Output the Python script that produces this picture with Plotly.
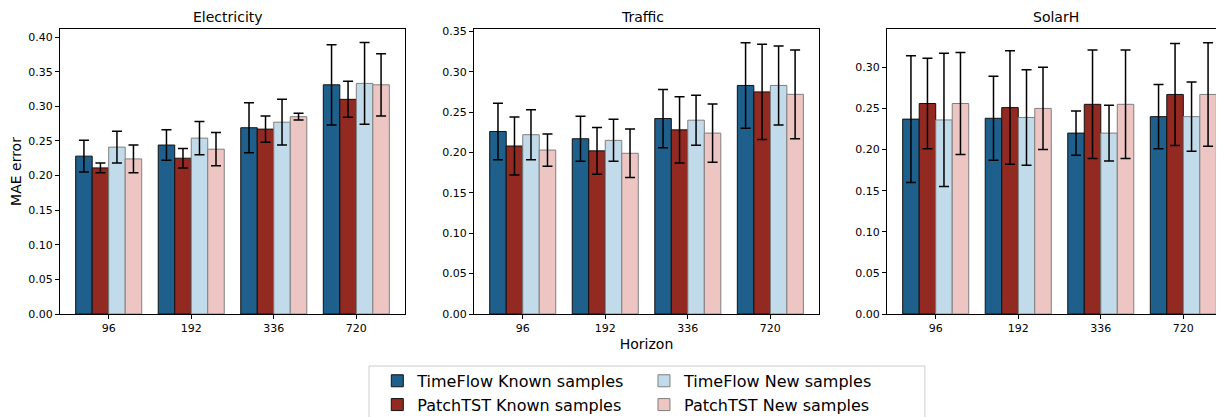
import plotly.graph_objects as go
from plotly.subplots import make_subplots

horizons = ["96", "192", "336", "720"]
datasets = ["Electricity", "Traffic", "SolarH"]
series = ["TimeFlow Known samples", "PatchTST Known samples", "TimeFlow New samples", "PatchTST New samples"]

# mean MAE per dataset, one list per series (horizon order 96,192,336,720)
elec_tf_known = [0.228, 0.244, 0.269, 0.331]
elec_pt_known = [0.211, 0.225, 0.267, 0.310]
elec_tf_new = [0.241, 0.254, 0.277, 0.333]
elec_pt_new = [0.224, 0.238, 0.285, 0.331]
elec_tf_known_err = [0.023, 0.022, 0.036, 0.058]
elec_pt_known_err = [0.007, 0.014, 0.019, 0.026]
elec_tf_new_err = [0.023, 0.024, 0.033, 0.059]
elec_pt_new_err = [0.020, 0.024, 0.005, 0.045]

traf_tf_known = [0.226, 0.217, 0.242, 0.283]
traf_pt_known = [0.208, 0.202, 0.228, 0.275]
traf_tf_new = [0.222, 0.215, 0.240, 0.283]
traf_pt_new = [0.203, 0.199, 0.224, 0.272]
traf_tf_known_err = [0.035, 0.028, 0.036, 0.053]
traf_pt_known_err = [0.036, 0.029, 0.041, 0.059]
traf_tf_new_err = [0.031, 0.026, 0.031, 0.049]
traf_pt_new_err = [0.020, 0.030, 0.036, 0.055]

solar_tf_known = [0.237, 0.238, 0.220, 0.240]
solar_pt_known = [0.256, 0.251, 0.255, 0.267]
solar_tf_new = [0.236, 0.239, 0.220, 0.240]
solar_pt_new = [0.256, 0.250, 0.255, 0.267]
solar_tf_known_err = [0.077, 0.051, 0.027, 0.039]
solar_pt_known_err = [0.055, 0.069, 0.066, 0.062]
solar_tf_new_err = [0.081, 0.058, 0.034, 0.042]
solar_pt_new_err = [0.062, 0.050, 0.066, 0.063]

means = {
    "Electricity": [elec_tf_known, elec_pt_known, elec_tf_new, elec_pt_new],
    "Traffic": [traf_tf_known, traf_pt_known, traf_tf_new, traf_pt_new],
    "SolarH": [solar_tf_known, solar_pt_known, solar_tf_new, solar_pt_new],
}
errs = {
    "Electricity": [elec_tf_known_err, elec_pt_known_err, elec_tf_new_err, elec_pt_new_err],
    "Traffic": [traf_tf_known_err, traf_pt_known_err, traf_tf_new_err, traf_pt_new_err],
    "SolarH": [solar_tf_known_err, solar_pt_known_err, solar_tf_new_err, solar_pt_new_err],
}

colors = ["#1f5f8b", "#922a22", "#c2dbea", "#edc6c4"]
edges = ["#111111", "#111111", "#7f7f7f", "#7f7f7f"]
legends = ["legend", "legend", "legend2", "legend2"]  # two legend columns: known / new
font = "DejaVu Sans"

fig = make_subplots(rows=1, cols=3, subplot_titles=datasets)

for c, name in enumerate(datasets):
    for i, s in enumerate(series):
        fig.add_trace(go.Bar(
            x=horizons, y=means[name][i], name=s,
            marker=dict(color=colors[i], line=dict(color=edges[i], width=1)),
            error_y=dict(type="data", array=errs[name][i], color="black", thickness=1.5, width=5),
            showlegend=(c == 0), legendgroup=s, legend=legends[i],
        ), row=1, col=c + 1)

leg_common = dict(orientation="v", yanchor="top", y=-0.175, xanchor="left",
                  font=dict(size=16), bgcolor="rgba(0,0,0,0)", borderwidth=0,
                  traceorder="normal", tracegroupgap=2)

# page body has an 8px margin, so the figure is 8px smaller and shifted up/left
fig.update_layout(
    width=1216, height=409,
    margin=dict(l=52, r=0, t=21, b=103, autoexpand=False),
    barmode="group", bargap=0.2, bargroupgap=0,
    plot_bgcolor="white", paper_bgcolor="white",
    font=dict(family=font, size=11, color="black"),
    xaxis=dict(domain=[0, 0.2964]),
    xaxis2=dict(domain=[0.3557, 0.6521]),
    xaxis3=dict(domain=[0.7105, 1.0]),
    legend=dict(x=0.2726, **leg_common),
    legend2=dict(x=0.5017, **leg_common),
)

# legend frame
fig.add_shape(type="rect", xref="paper", yref="paper", x0=0.2655, x1=0.7431, y0=-0.1825, y1=-0.45,
              line=dict(color="#cccccc", width=1), fillcolor="rgba(0,0,0,0)", layer="below")

fig.update_xaxes(showline=True, linecolor="black", linewidth=1, mirror=True, ticks="outside",
                 ticklen=4, tickcolor="black", showgrid=False, tickfont=dict(size=11))
fig.update_yaxes(showline=True, linecolor="black", linewidth=1, mirror=True, ticks="outside",
                 ticklen=4, tickcolor="black", showgrid=False, zeroline=False,
                 tickformat=".2f", dtick=0.05, tickfont=dict(size=11))
fig.update_xaxes(range=[-0.59, 3.59], row=1, col=1)
fig.update_xaxes(range=[-0.59, 3.59], row=1, col=2)
fig.update_xaxes(range=[-0.59, 3.493], row=1, col=3)
fig.update_yaxes(range=[0, 0.4116], row=1, col=1)
fig.update_yaxes(range=[0, 0.3529], row=1, col=2)
fig.update_yaxes(range=[0, 0.3466], row=1, col=3)
fig.update_yaxes(title_text="MAE error", title_font=dict(size=14), title_standoff=8, row=1, col=1)
fig.update_xaxes(title_text="Horizon", title_font=dict(size=14), title_standoff=4, row=1, col=2)

for a in fig.layout.annotations:
    a.font = dict(family=font, size=14, color="black")
    a.yshift = 2

fig.write_html("out.html")
